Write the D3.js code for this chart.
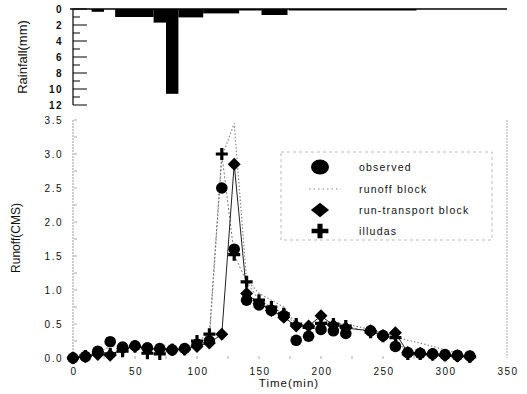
<!DOCTYPE html>
<html>
<head>
<meta charset="utf-8">
<script src="https://cdn.jsdelivr.net/npm/d3@7"></script>
<style>
  body { margin: 0; background: #fff; }
  text { font-family: Arial, "Liberation Sans", sans-serif; fill: #111; }
</style>
</head>
<body>
<svg width="527" height="394"></svg>
<script>
// rainfall hyetograph (minutes, mm)
var rainStart = [15, 34, 65, 75, 85, 105, 134, 152, 174, 200];
var rainEnd   = [25, 65, 75, 85, 105, 134, 152, 173, 200, 277];
var rainDepth = [0.35, 1.0, 1.7, 10.6, 1.05, 0.55, 0.1, 0.75, 0.05, 0.15];

// runoff hydrographs (CMS)
var time = [0, 10, 20, 30, 40, 50, 60, 70, 80, 90, 100, 110, 120, 130, 140, 150, 160,
            170, 180, 190, 200, 210, 220, 240, 250, 260, 270, 280, 290, 300, 310, 320];
var observed = [0.0, 0.02, 0.1, 0.24, 0.16, 0.18, 0.15, 0.14, 0.12, 0.14, 0.2, 0.25, 2.5, 1.6, 0.85, 0.78, 0.7,
                0.62, 0.26, 0.32, 0.42, 0.4, 0.36, 0.4, 0.33, 0.17, 0.08, 0.07, 0.06, 0.05, 0.04, 0.03];
var runoffBlock = [0.0, 0.02, 0.08, 0.17, 0.18, 0.18, 0.16, 0.15, 0.13, 0.15, 0.22, 0.3, 2.95, 3.45, 1.15, 0.95, 0.85,
                   0.75, 0.5, 0.48, 0.55, 0.52, 0.5, 0.42, 0.36, 0.31, 0.26, 0.22, 0.17, 0.12, 0.07, 0.03];
var runTransport = [0.0, 0.02, 0.05, 0.04, 0.14, 0.17, 0.14, 0.13, 0.12, 0.13, 0.17, 0.22, 0.35, 2.85, 0.95, 0.8, 0.7,
                    0.6, 0.47, 0.47, 0.62, 0.48, 0.44, 0.4, 0.33, 0.37, 0.08, 0.07, 0.05, 0.04, 0.03, 0.02];
var illudas = [0.0, 0.03, 0.08, 0.06, 0.1, 0.17, 0.07, 0.06, 0.12, 0.13, 0.25, 0.35, 3.0, 1.52, 1.12, 0.85, 0.75,
               0.65, 0.5, 0.45, 0.51, 0.5, 0.47, 0.38, 0.32, 0.3, 0.06, 0.06, 0.05, 0.04, 0.03, 0.02];

var xTicks = [0, 50, 100, 150, 200, 250, 300, 350];
var qTicks = [0, 0.5, 1.0, 1.5, 2.0, 2.5, 3.0, 3.5];
var rTicks = [0, 2, 4, 6, 8, 10, 12];
var legendNames = ["observed", "runoff block", "run-transport block", "illudas"];

var svg = d3.select("svg");

var x = d3.scaleLinear().domain([0, 350]).range([73, 507]);
var yR = d3.scaleLinear().domain([0, 12]).range([9, 105]);
var yQ = d3.scaleLinear().domain([0, 3.5]).range([358, 120]);

// ---------- rainfall panel ----------
var rain = svg.append("g");

rain.selectAll("rect.rain")
  .data(rainDepth)
  .enter().append("rect")
    .attr("class", "rain")
    .attr("x", function(d, i) { return x(rainStart[i]); })
    .attr("width", function(d, i) { return x(rainEnd[i]) - x(rainStart[i]); })
    .attr("y", yR(0))
    .attr("height", function(d) { return Math.max(yR(d) - yR(0), 1.5); })
    .attr("fill", "#000");

rain.append("line")
  .attr("x1", 70).attr("x2", 507)
  .attr("y1", yR(0)).attr("y2", yR(0))
  .attr("stroke", "#000").attr("stroke-width", 1.5);

rain.append("line")
  .attr("x1", 73).attr("x2", 73)
  .attr("y1", yR(0)).attr("y2", yR(12))
  .attr("stroke", "#000").attr("stroke-width", 1.2);

rain.selectAll("line.rtick")
  .data(d3.range(0, 13))
  .enter().append("line")
    .attr("class", "rtick")
    .attr("x1", 73)
    .attr("x2", function(d) { return d % 2 === 0 ? 87 : 80; })
    .attr("y1", function(d) { return yR(d); })
    .attr("y2", function(d) { return yR(d); })
    .attr("stroke", "#000").attr("stroke-width", 1);

rain.selectAll("text.rlab")
  .data(rTicks)
  .enter().append("text")
    .attr("class", "rlab")
    .attr("x", 63)
    .attr("y", function(d) { return yR(d) + 3.5; })
    .attr("text-anchor", "end")
    .attr("font-size", 10)
    .attr("font-weight", "bold")
    .attr("letter-spacing", 1.5)
    .text(function(d) { return d; });

rain.append("text")
  .attr("transform", "translate(27,57) rotate(-90)")
  .attr("text-anchor", "middle")
  .attr("font-size", 13)
  .text("Rainfall(mm)");

// ---------- runoff panel ----------
var g = svg.append("g");

g.append("line")
  .attr("x1", 73).attr("x2", 73).attr("y1", yQ(3.5)).attr("y2", yQ(0))
  .attr("stroke", "#999").attr("stroke-width", 1).attr("stroke-dasharray", "2,1");
g.append("line")
  .attr("x1", 507).attr("x2", 507).attr("y1", yQ(3.5)).attr("y2", yQ(0))
  .attr("stroke", "#aaa").attr("stroke-width", 1).attr("stroke-dasharray", "2,1");

g.selectAll("line.qtick")
  .data(d3.range(0, 3.51, 0.25))
  .enter().append("line")
    .attr("class", "qtick")
    .attr("x1", 74).attr("x2", 77)
    .attr("y1", function(d) { return yQ(d); })
    .attr("y2", function(d) { return yQ(d); })
    .attr("stroke", "#aaa");

g.selectAll("line.xtick")
  .data(d3.range(25, 350, 25))
  .enter().append("line")
    .attr("class", "xtick")
    .attr("x1", function(d) { return x(d); })
    .attr("x2", function(d) { return x(d); })
    .attr("y1", 356).attr("y2", 359)
    .attr("stroke", "#aaa");

g.selectAll("text.qlab")
  .data(qTicks)
  .enter().append("text")
    .attr("class", "qlab")
    .attr("x", 63)
    .attr("y", function(d) { return yQ(d) + 3.5; })
    .attr("text-anchor", "end")
    .attr("font-size", 10)
    .attr("letter-spacing", 1.5)
    .text(function(d) { return d3.format(".1f")(d); });

g.selectAll("text.xlab")
  .data(xTicks)
  .enter().append("text")
    .attr("class", "xlab")
    .attr("x", function(d) { return x(d) + 1; })
    .attr("y", 375)
    .attr("text-anchor", "middle")
    .attr("font-size", 10)
    .attr("letter-spacing", 1.5)
    .text(function(d) { return d; });

g.append("text")
  .attr("x", 289).attr("y", 387)
  .attr("text-anchor", "middle")
  .attr("font-size", 11.5)
  .attr("letter-spacing", 1)
  .text("Time(min)");

g.append("text")
  .attr("transform", "translate(20,238) rotate(-90)")
  .attr("text-anchor", "middle")
  .attr("font-size", 12)
  .text("Runoff(CMS)");

function series(vals) {
  return vals.map(function(v, i) { return [time[i], v]; });
}
var line = d3.line()
  .x(function(d) { return x(d[0]); })
  .y(function(d) { return yQ(d[1]); });

g.append("path")
  .datum(series(runoffBlock))
  .attr("d", line)
  .attr("fill", "none").attr("stroke", "#888")
  .attr("stroke-width", 1.2).attr("stroke-dasharray", "1.5,2");
g.append("path")
  .datum(series(illudas))
  .attr("d", line)
  .attr("fill", "none").attr("stroke", "#777")
  .attr("stroke-width", 1).attr("stroke-dasharray", "2,2");
g.append("path")
  .datum(series(runTransport))
  .attr("d", line)
  .attr("fill", "none").attr("stroke", "#222")
  .attr("stroke-width", 1);

// marker shapes
function diamondPath(s) {
  return "M0," + (-s) + "L" + s + ",0L0," + s + "L" + (-s) + ",0Z";
}
function crossPath(s, w) {
  return "M" + (-w) + "," + (-s) + "H" + w + "V" + (-w) + "H" + s + "V" + w + "H" + w +
    "V" + s + "H" + (-w) + "V" + w + "H" + (-s) + "V" + (-w) + "H" + (-w) + "Z";
}

g.selectAll("circle.obs")
  .data(series(observed))
  .enter().append("circle")
    .attr("class", "obs")
    .attr("cx", function(d) { return x(d[0]); })
    .attr("cy", function(d) { return yQ(d[1]); })
    .attr("r", 5.8)
    .attr("fill", "#000");

g.selectAll("path.rt")
  .data(series(runTransport))
  .enter().append("path")
    .attr("class", "rt")
    .attr("transform", function(d) { return "translate(" + x(d[0]) + "," + yQ(d[1]) + ")"; })
    .attr("d", diamondPath(6.5))
    .attr("fill", "#000");

g.selectAll("path.il")
  .data(series(illudas))
  .enter().append("path")
    .attr("class", "il")
    .attr("transform", function(d) { return "translate(" + x(d[0]) + "," + yQ(d[1]) + ")"; })
    .attr("d", crossPath(6, 1.6))
    .attr("fill", "#000");

// ---------- legend ----------
var leg = svg.append("g");
leg.append("rect")
  .attr("x", 281).attr("y", 152).attr("width", 211).attr("height", 88)
  .attr("fill", "none").attr("stroke", "#bbb").attr("stroke-dasharray", "3,3");

var rowY = [167, 189, 210, 231];
leg.selectAll("text.lg")
  .data(legendNames)
  .enter().append("text")
    .attr("class", "lg")
    .attr("x", 359)
    .attr("y", function(d, i) { return rowY[i] + 4; })
    .attr("font-size", 10.5)
    .attr("letter-spacing", 1.2)
    .text(function(d) { return d; });

leg.append("ellipse")
  .attr("cx", 320).attr("cy", rowY[0]).attr("rx", 9).attr("ry", 7.5)
  .attr("fill", "#000");
leg.append("line")
  .attr("x1", 309).attr("x2", 341).attr("y1", rowY[1]).attr("y2", rowY[1])
  .attr("stroke", "#888").attr("stroke-width", 1.2).attr("stroke-dasharray", "1.5,3");
leg.append("path")
  .attr("transform", "translate(320," + rowY[2] + ") scale(1.4,1.1)")
  .attr("d", diamondPath(6.5))
  .attr("fill", "#000");
leg.append("path")
  .attr("transform", "translate(320," + rowY[3] + ") scale(1.4,1.2)")
  .attr("d", crossPath(6, 1.8))
  .attr("fill", "#000");
</script>
</body>
</html>
